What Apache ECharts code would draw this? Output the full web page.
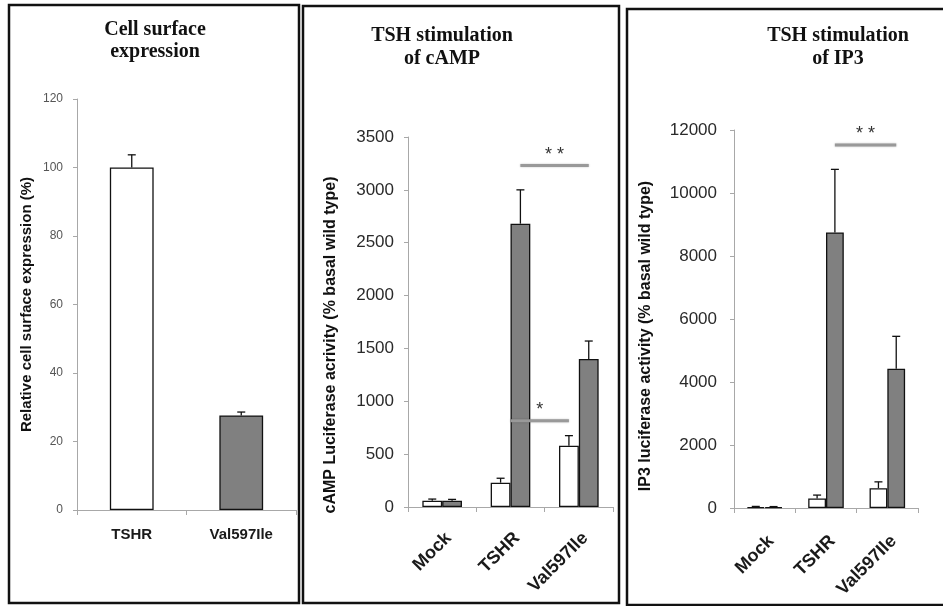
<!DOCTYPE html>
<html>
<head>
<meta charset="utf-8">
<script src="https://cdn.jsdelivr.net/npm/echarts@6/dist/echarts.min.js"></script>
<style>
  html, body { margin: 0; padding: 0; background: #fff; }
  #chart { width: 943px; height: 606px; }
</style>
</head>
<body>
<div id="chart"></div>
<script>
// panel 1: cell surface expression
var cells = ['TSHR', 'Val597Ile'];
var surfaceMean = [100, 27.6];
var surfaceTop = [103.7, 28.6];

// panels 2 and 3: basal (white) and TSH stimulated (gray)
var groups = ['Mock', 'TSHR', 'Val597Ile'];
var campBasal = [60, 230, 580];
var campBasalTop = [75, 272, 675];
var campTsh = [60, 2680, 1400];
var campTshTop = [72, 3000, 1570];
var ip3Basal = [30, 300, 630];
var ip3BasalTop = [50, 410, 830];
var ip3Tsh = [30, 8750, 4420];
var ip3TshTop = [45, 10750, 5450];

// significance bars: [fromGroup, fromBar, toGroup, toBar, y, text]
var campSig = [[1, 1, 2, 1, 3230, '* *'], [1, 0.5, 2, 0, 816, '*']];
var ip3Sig = [[1, 1, 2, 1, 11520, '* *']];

var sans = '"Liberation Sans", Arial, sans-serif';
var serif = '"Liberation Serif", "Times New Roman", serif';
var axisGray = '#a8a8a8';

function errSeries(idx, mean, top, shift) {
  return {
    type: 'custom', xAxisIndex: idx, yAxisIndex: idx, z: 5,
    data: mean.map(function (v, i) { return [i, v, top[i]]; }),
    renderItem: function (params, api) {
      var base = api.coord([api.value(0), api.value(1)]);
      var tip = api.coord([api.value(0), api.value(2)]);
      var band = api.size([1, 0])[0];
      var x = base[0] + shift * band;
      var st = { stroke: '#111', lineWidth: 1.3 };
      return { type: 'group', children: [
        { type: 'line', shape: { x1: x, y1: base[1], x2: x, y2: tip[1] }, style: st },
        { type: 'line', shape: { x1: x - 4, y1: tip[1], x2: x + 4, y2: tip[1] }, style: st }
      ] };
    }
  };
}

function sigSeries(idx, sig, barFrac) {
  return {
    type: 'custom', xAxisIndex: idx, yAxisIndex: idx, z: 6,
    data: sig,
    renderItem: function (params, api) {
      var d = sig[params.dataIndex];
      var band = api.size([1, 0])[0];
      var bw = band * barFrac;
      var a = api.coord([d[0], d[4]]);
      var b = api.coord([d[2], d[4]]);
      var x1 = a[0] + (d[1] - 0.5) * bw;
      var x2 = b[0] + (d[3] - 0.5) * bw;
      return { type: 'group', children: [
        { type: 'line', shape: { x1: x1, y1: a[1], x2: x2, y2: a[1] },
          style: { stroke: '#999', lineWidth: 3, shadowBlur: 2, shadowColor: 'rgba(0,0,0,0.25)' } },
        { type: 'text', x: (x1 + x2) / 2, y: a[1] - 11,
          style: { text: d[5], font: '18px ' + sans, fill: '#333', align: 'center', verticalAlign: 'middle' } }
      ] };
    }
  };
}

function yAx(idx, max, step, name, font, labelSize, margin, gap, pad) {
  return {
    gridIndex: idx, type: 'value', min: 0, max: max, interval: step,
    name: name, nameLocation: 'middle', nameGap: gap,
    nameTextStyle: { fontFamily: sans, fontWeight: 'bold', fontSize: font, color: '#111', padding: [0, pad, 0, 0] },
    axisLine: { show: true, lineStyle: { color: axisGray, width: 1 } },
    axisTick: { show: true, length: 4, lineStyle: { color: axisGray } },
    axisLabel: { fontFamily: sans, fontSize: labelSize, color: idx === 0 ? '#555' : '#2a2a2a', margin: margin,
      formatter: function (v) { return String(v); } },
    splitLine: { show: false }
  };
}

function xAx(idx, data, rotate, size, margin) {
  return {
    gridIndex: idx, type: 'category', data: data,
    axisLine: { show: true, lineStyle: { color: axisGray, width: 1 } },
    axisTick: { show: true, length: 5, lineStyle: { color: axisGray } },
    axisLabel: rotate ? {
      rotate: 45, align: 'right', verticalAlign: 'top', interval: 0,
      fontFamily: sans, fontWeight: 'bold', fontSize: size, color: '#1a1a1a', margin: margin
    } : {
      interval: 0, fontFamily: sans, fontWeight: 'bold', fontSize: size, color: '#1a1a1a', margin: margin
    }
  };
}

var barStyle = function (c) { return { color: c, borderColor: '#111', borderWidth: 1.3 }; };

var chart = echarts.init(document.getElementById('chart'));
chart.setOption({
  animation: false,
  backgroundColor: '#fff',
  grid: [
    { left: 77, top: 99, width: 219, height: 411, outerBoundsMode: 'none' },
    { left: 408, top: 137, width: 205, height: 370, outerBoundsMode: 'none' },
    { left: 734, top: 130, width: 184, height: 378, outerBoundsMode: 'none' }
  ],
  xAxis: [
    xAx(0, cells, false, 15, 17),
    xAx(1, groups, true, 18, 22),
    xAx(2, groups, true, 18, 24)
  ],
  yAxis: [
    yAx(0, 120, 20, 'Relative cell surface expression (%)', 15, 12, 14, 43, 0),
    yAx(1, 3500, 500, 'cAMP Luciferase acrivity (% basal wild type)', 16, 17, 14, 69, 46),
    yAx(2, 12000, 2000, 'IP3 luciferase activity (% basal wild type)', 16, 17, 17, 80, 34)
  ],
  series: [
    { type: 'bar', xAxisIndex: 0, yAxisIndex: 0, barWidth: '40%', data: surfaceMean,
      itemStyle: { borderColor: '#111', borderWidth: 1.3,
        color: function (p) { return p.dataIndex === 0 ? '#ffffff' : '#808080'; } } },
    errSeries(0, surfaceMean, surfaceTop, 0),

    { type: 'bar', xAxisIndex: 1, yAxisIndex: 1, barWidth: '29%', barGap: '0%', data: campBasal, itemStyle: barStyle('#ffffff') },
    { type: 'bar', xAxisIndex: 1, yAxisIndex: 1, barWidth: '29%', barGap: '0%', data: campTsh, itemStyle: barStyle('#808080') },
    errSeries(1, campBasal, campBasalTop, -0.145),
    errSeries(1, campTsh, campTshTop, 0.145),
    sigSeries(1, campSig, 0.29),

    { type: 'bar', xAxisIndex: 2, yAxisIndex: 2, barWidth: '29%', barGap: '0%', data: ip3Basal, itemStyle: barStyle('#ffffff') },
    { type: 'bar', xAxisIndex: 2, yAxisIndex: 2, barWidth: '29%', barGap: '0%', data: ip3Tsh, itemStyle: barStyle('#808080') },
    errSeries(2, ip3Basal, ip3BasalTop, -0.145),
    errSeries(2, ip3Tsh, ip3TshTop, 0.145),
    sigSeries(2, ip3Sig, 0.29)
  ],
  graphic: [
    { type: 'rect', shape: { x: 9, y: 5, width: 290, height: 598 }, style: { fill: 'none', stroke: '#111', lineWidth: 2.5 }, silent: true },
    { type: 'rect', shape: { x: 303, y: 6, width: 316, height: 597 }, style: { fill: 'none', stroke: '#111', lineWidth: 2.5 }, silent: true },
    { type: 'rect', shape: { x: 627, y: 9, width: 330, height: 596 }, style: { fill: 'none', stroke: '#111', lineWidth: 2.5 }, silent: true },
    { type: 'text', x: 155, y: 40.5, style: { text: 'Cell surface\nexpression', font: 'bold 20px ' + serif, fill: '#111', align: 'center', verticalAlign: 'middle', lineHeight: 22 } },
    { type: 'text', x: 442, y: 47.5, style: { text: 'TSH stimulation\nof cAMP', font: 'bold 20px ' + serif, fill: '#111', align: 'center', verticalAlign: 'middle', lineHeight: 23 } },
    { type: 'text', x: 838, y: 47.5, style: { text: 'TSH stimulation\nof IP3', font: 'bold 20px ' + serif, fill: '#111', align: 'center', verticalAlign: 'middle', lineHeight: 23 } }
  ]
});
</script>
</body>
</html>
